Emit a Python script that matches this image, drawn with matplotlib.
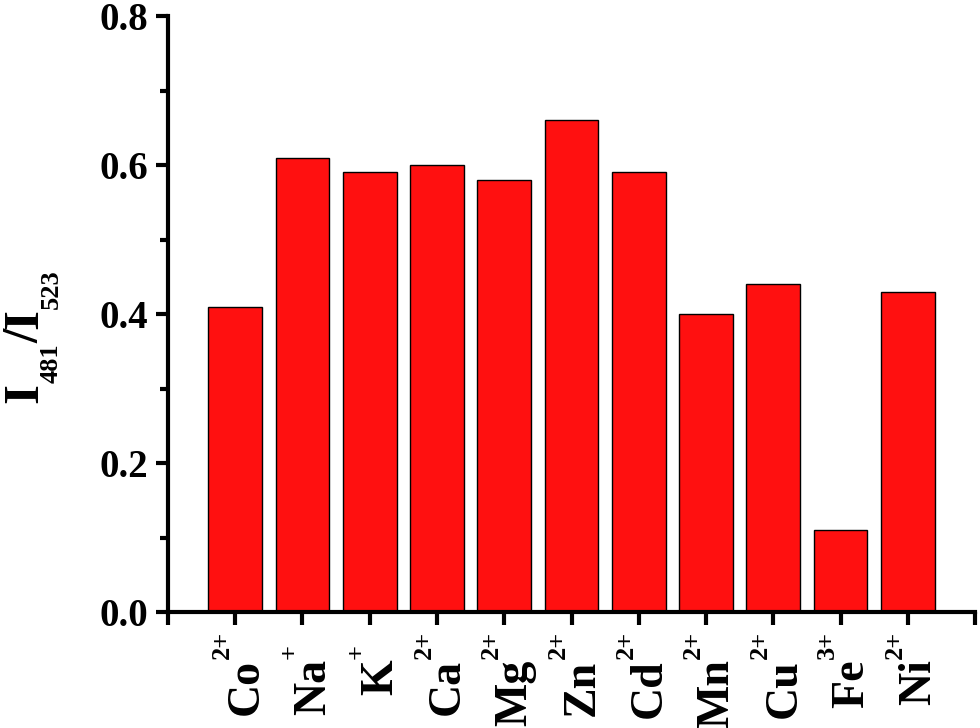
import matplotlib
matplotlib.use("Agg")
import matplotlib.pyplot as plt
from matplotlib.ticker import MultipleLocator
from matplotlib.transforms import IdentityTransform

ions = ["Co", "Na", "K", "Ca", "Mg", "Zn", "Cd", "Mn", "Cu", "Fe", "Ni"]
charges = ["2+", "+", "+", "2+", "2+", "2+", "2+", "2+", "2+", "3+", "2+"]
ratio = [0.41, 0.61, 0.59, 0.60, 0.58, 0.66, 0.59, 0.40, 0.44, 0.11, 0.43]

# y label pieces: (text, is_subscript)
ylabel_parts = [("I", False), ("481", True), ("/", False), ("I", False), ("523", True)]

plt.rcParams["font.family"] = ["Liberation Serif", "DejaVu Serif"]
plt.rcParams["font.weight"] = "bold"

fig = plt.figure(figsize=(9.8, 7.28), dpi=100)
ax = fig.add_axes([0.1714, 0.1593, 0.8236, 0.8187])

x = list(range(1, len(ions) + 1))
ax.bar(x, ratio, width=0.8, color="#ff1010", edgecolor="black", linewidth=1.0)

ax.set_xlim(0, len(ions) + 1)
ax.set_ylim(0, 0.8)
ax.set_xticks(range(0, len(ions) + 2))
ax.set_xticklabels([])

# ion labels: name + raised charge, drawn as two rotated texts
for xi, name, q in zip(x, ions, charges):
    ax.annotate(name, xy=(xi, 0), xycoords=("data", "axes fraction"),
                xytext=(16, -34), textcoords="offset points",
                rotation=90, rotation_mode="anchor", ha="right", va="baseline",
                fontsize=33, fontweight="bold")
    ax.annotate(q, xy=(xi, 0), xycoords=("data", "axes fraction"),
                xytext=(-4.5, -33.5), textcoords="offset points",
                rotation=90, rotation_mode="anchor", ha="left", va="baseline",
                fontsize=19, fontweight="bold")

ax.yaxis.set_major_locator(MultipleLocator(0.2))
ax.yaxis.set_minor_locator(MultipleLocator(0.1))
ax.yaxis.set_major_formatter(plt.FormatStrFormatter("%.1f"))
for t in ax.get_yticklabels():
    t.set_fontsize(28)
    t.set_fontweight("bold")

ax.spines["top"].set_visible(False)
ax.spines["right"].set_visible(False)
for s in ["left", "bottom"]:
    ax.spines[s].set_linewidth(3)
ax.tick_params(axis="both", which="major", direction="out", length=9, width=3, pad=5)
ax.tick_params(axis="y", which="minor", direction="out", length=6, width=3)

# y label built from pieces so subscripts sit fully below the baseline
renderer = fig.canvas.get_renderer()
cursor = 728 - 403
for s, sub in ylabel_parts:
    t = fig.text(58 if sub else 37, cursor, s, transform=IdentityTransform(),
                 rotation=90, rotation_mode="anchor", ha="left", va="baseline",
                 fontsize=19 if sub else 37, fontweight="bold")
    cursor += t.get_window_extent(renderer).height

fig.savefig("out.png", dpi=100)
